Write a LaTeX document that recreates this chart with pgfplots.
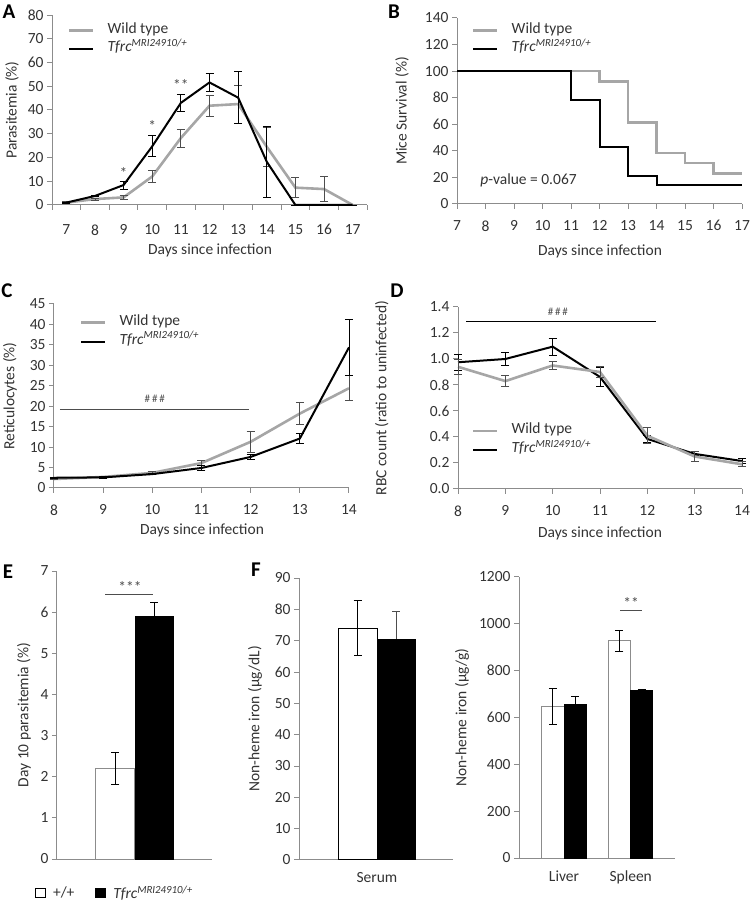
\documentclass[border=0pt]{standalone}
\usepackage{fontspec}
\setmainfont{Carlito}
\usepackage{pgfplots}
\usepackage{pgfplotstable}
\pgfplotsset{compat=1.18}
\definecolor{axgray}{HTML}{8C8C8C}
\definecolor{wtgray}{HTML}{A6A6A6}
\definecolor{txt}{HTML}{333333}
\definecolor{errgray}{HTML}{4D4D4D}
\newcommand\fs{\fontsize{15.5}{18}\selectfont}
\newcommand\tfrc{\textit{Tfrc}\textsuperscript{\textit{MRI24910/+}}}
\tikzset{xtitle/.style={font=\fs, text=txt, anchor=center}}
\pgfplotsset{
  excel/.style={
    scale only axis, anchor=south west, clip=false,
    axis x line*=bottom, axis y line*=left,
    axis line style={draw=axgray, line width=1pt},
    every tick/.style={draw=axgray, line width=1pt},
    tick align=outside, major tick length=5pt, minor tick length=5pt,
    ticklabel style={font=\fs, text=txt},
    xticklabel style={yshift=-8pt},
    label style={font=\fs, text=txt},
    /pgf/number format/assume math mode=true,
    /pgf/number format/1000 sep={},
    scaled ticks=false,
    ylabel style={anchor=center},
  },
  wt/.style={draw=wtgray, line width=2.6pt, mark=none,
    error bars/y dir=both, error bars/y explicit,
    error bars/error bar style={draw=errgray, line width=0.9pt},
    error bars/error mark options={rotate=90, draw=errgray, mark size=4pt, line width=0.9pt}},
  mu/.style={draw=black, line width=2pt, mark=none,
    error bars/y dir=both, error bars/y explicit,
    error bars/error bar style={draw=black, line width=0.9pt},
    error bars/error mark options={rotate=90, draw=black, mark size=4pt, line width=0.9pt}},
  lgd/.style={legend style={draw=none, fill=none, inner sep=0pt, outer sep=0pt,
      font=\fs, text=txt, nodes={inner sep=0pt, text height=8pt, text depth=3pt},
      /tikz/every odd column/.append style={column sep=13pt}, row sep=#1},
    legend cell align=left,
    legend image code/.code={\draw[##1] (0pt,0pt) -- (24pt,0pt);}},
  barerr/.style={error bars/y explicit,
    error bars/error bar style={draw=black, line width=0.9pt},
    error bars/error mark options={rotate=90, draw=black, mark size=4pt, line width=0.9pt}},
}
\pgfplotstableread{
d wt wte mu mue
7 1 0.3 1 0.2
8 2.5 0.4 3.8 0.4
9 3.2 1.0 8.4 1.7
10 12 2.7 24.7 4.4
11 28.2 3.8 43 3.6
12 41.8 4.5 51.6 3.6
13 42.5 8 45.2 11
14 24.5 8.3 18.2 15
15 7.3 4.2 0 0
16 6.7 5.2 0 0
17 0 0 0 0
}\tA
\pgfplotstableread{
d wt wte mu mue
8 2.2 0.2 2.5 0.2
9 2.7 0.2 2.6 0.2
10 3.7 0.3 3.4 0.2
11 6.1 0.6 4.9 0.5
12 11.3 2.5 7.6 0.5
13 18.2 2.7 12.1 1.3
14 24.4 3.1 34.4 6.8
}\tC
\pgfplotstableread{
d wt wte mu mue
8 0.94 0.06 0.975 0.06
9 0.83 0.04 1.0 0.05
10 0.95 0.03 1.095 0.065
11 0.90 0.04 0.862 0.075
12 0.41 0.06 0.385 0.03
13 0.25 0.035 0.27 0.015
14 0.19 0.02 0.215 0.02
}\tD
\begin{document}
\begin{tikzpicture}[x=1pt,y=1pt]
\useasboundingbox (0,0) rectangle (750,905);
% panel letters
\node[font=\fontsize{21}{21}\selectfont\bfseries] at (9,893) {A};
\node[font=\fontsize{21}{21}\selectfont\bfseries] at (394,893) {B};
\node[font=\fontsize{21}{21}\selectfont\bfseries] at (7,614) {C};
\node[font=\fontsize{21}{21}\selectfont\bfseries] at (397,614) {D};
\node[font=\fontsize{21}{21}\selectfont\bfseries] at (8,333) {E};
\node[font=\fontsize{21}{21}\selectfont\bfseries] at (256,335) {F};
% x-axis titles
\node[xtitle] at (210,655) {Days since infection};
\node[xtitle] at (600,654) {Days since infection};
\node[xtitle] at (202,375) {Days since infection};
\node[xtitle] at (600,372) {Days since infection};

% ---------- A ----------
\begin{axis}[excel, at={(52pt,700pt)}, width=315pt, height=190pt,
  xmin=6.5, xmax=17.5, ymin=0, ymax=80, ytick={0,10,...,80},
  xtick={7,...,17}, major x tick style={draw=none},
  xticklabel style={yshift=-3pt},
  minor xtick={6.5,7.5,...,17.5},
  ylabel={Parasitemia (\%)}, ylabel style={at={(axis description cs:-0.127,0.5)}},
  lgd=7.3pt, legend style={at={(axis description cs:0.051,0.87)}, anchor=west}]
\addlegendimage{draw=wtgray, line width=2.6pt}\addlegendentry{Wild type}
\addlegendimage{draw=black, line width=2pt}\addlegendentry{\tfrc}
\addplot[wt, forget plot] table[x=d, y=wt, y error=wte] {\tA};
\addplot[mu, forget plot] table[x=d, y=mu, y error=mue] {\tA};
\node[font=\fs, text=errgray] at (axis cs:9,13.5) {*};
\node[font=\fs, text=errgray] at (axis cs:10,33.2) {*};
\node[font=\fs, text=errgray] at (axis cs:11,50.4) {**};
\end{axis}

% ---------- B ----------
\begin{axis}[excel, at={(457pt,701pt)}, width=285pt, height=186pt,
  xmin=7, xmax=17, ymin=0, ymax=140, ytick={0,20,...,140}, xtick={7,...,17},
  ylabel={Mice Survival (\%)}, ylabel style={at={(axis description cs:-0.193,0.5)}},
  lgd=7.3pt, legend style={at={(axis description cs:0.053,0.882)}, anchor=west}]
\addlegendimage{draw=wtgray, line width=2.6pt}\addlegendentry{Wild type}
\addlegendimage{draw=black, line width=2pt}\addlegendentry{\tfrc}
\addplot[draw=wtgray, line width=2.6pt, const plot mark left, forget plot] coordinates {(7,100)(12,92.3)(13,61.5)(14,38.5)(15,30.8)(16,23.1)(17,23.1)};
\addplot[draw=black, line width=2pt, const plot mark left, forget plot] coordinates {(7,100)(11,78.6)(12,42.9)(13,21.4)(14,14.3)(17,14.3)};
\node[font=\fs, text=txt, anchor=west] at (axis cs:7.7,18.1) {\textit{p}-value = 0.067};
\end{axis}

% ---------- C ----------
\begin{axis}[excel, at={(54pt,417pt)}, width=295pt, height=184pt,
  xmin=8, xmax=14, ymin=0, ymax=45, ytick={0,5,...,45}, xtick={8,...,14},
  ylabel={Reticulocytes (\%)}, ylabel style={at={(axis description cs:-0.149,0.5)}},
  lgd=8pt, legend style={at={(axis description cs:0.088,0.847)}, anchor=west}]
\addlegendimage{draw=wtgray, line width=2.6pt}\addlegendentry{Wild type}
\addlegendimage{draw=black, line width=2pt}\addlegendentry{\tfrc}
\addplot[draw=errgray, line width=0.9pt, forget plot] coordinates {(8.12,19.1)(11.97,19.1)};
\node[font=\fontsize{11}{11}\selectfont, text=errgray] at (axis cs:10.05,21.8) {\#\,\#\,\#};
\addplot[wt, forget plot] table[x=d, y=wt, y error=wte] {\tC};
\addplot[mu, forget plot] table[x=d, y=mu, y error=mue] {\tC};
\end{axis}

% ---------- D ----------
\begin{axis}[excel, at={(458pt,416pt)}, width=284pt, height=182pt,
  xmin=8, xmax=14, ymin=0, ymax=1.4, ytick={0,0.2,0.4,0.6,0.8,1,1.2,1.4}, xtick={8,...,14},
  yticklabel style={/pgf/number format/fixed, /pgf/number format/fixed zerofill, /pgf/number format/precision=1},
  ylabel={RBC count (ratio to uninfected)}, ylabel style={at={(axis description cs:-0.268,0.5)}},
  lgd=8pt, legend style={at={(axis description cs:0.049,0.266)}, anchor=west}]
\addlegendimage{draw=wtgray, line width=2.6pt}\addlegendentry{Wild type}
\addlegendimage{draw=black, line width=2pt}\addlegendentry{\tfrc}
\addplot[draw=black, line width=0.9pt, forget plot] coordinates {(8.17,1.285)(12.18,1.285)};
\node[font=\fontsize{11}{11}\selectfont, text=errgray] at (axis cs:10.11,1.36) {\#\,\#\,\#};
\addplot[mu, forget plot] table[x=d, y=mu, y error=mue] {\tD};
\addplot[wt, forget plot] table[x=d, y=wt, y error=wte] {\tD};
\end{axis}

% ---------- E ----------
\begin{axis}[excel, at={(57pt,46pt)}, width=155pt, height=288pt,
  xmin=0, xmax=1, ymin=0, ymax=7, ytick={0,...,7}, xtick=\empty,
  ylabel={Day 10 parasitemia (\%)}, ylabel style={at={(axis description cs:-0.213,0.5)}},
  legend style={at={(axis description cs:-0.161,-0.118)}, anchor=west, draw=none, fill=none,
    legend columns=2, font=\fs, text=txt, nodes={inner sep=0pt},
    /tikz/every odd column/.append style={column sep=7pt},
    /tikz/every even column/.append style={column sep=21pt}},
  legend image code/.code={\draw[#1] (0pt,-4.5pt) rectangle (10pt,5pt);}]
\addlegendimage{draw=black, fill=white, line width=0.8pt}\addlegendentry{+/+}
\addlegendimage{draw=black, fill=black, line width=0.8pt}\addlegendentry{\tfrc}
\addplot[ybar, bar width=0.252, bar shift=0pt, fill=white, draw=axgray, line width=1pt,
  barerr, error bars/y dir=both, forget plot] coordinates {(0.377,2.2) +- (0,0.39)};
\addplot[ybar, bar width=0.245, bar shift=0pt, fill=black, draw=black, line width=1pt,
  barerr, error bars/y dir=plus, forget plot] coordinates {(0.626,5.9) +- (0,0.34)};
\addplot[draw=errgray, line width=0.9pt, forget plot] coordinates {(0.31,6.42)(0.62,6.42)};
\node[font=\fs, text=errgray] at (axis cs:0.471,6.62) {***};
\end{axis}

% ---------- F left ----------
\begin{axis}[excel, at={(299pt,45pt)}, width=154pt, height=282pt,
  xmin=0, xmax=1, ymin=0, ymax=90, ytick={0,10,...,90},
  xtick={0.506}, xticklabels={Serum}, major x tick style={draw=none},
  xticklabel style={yshift=4pt},
  ylabel={Non-heme iron (µg/dL)}, ylabel style={at={(axis description cs:-0.286,0.5)}}]
\addplot[ybar, bar width=0.253, bar shift=0pt, fill=white, draw=black, line width=1pt,
  barerr, error bars/y dir=both] coordinates {(0.38,74) +- (0,8.7)};
\addplot[ybar, bar width=0.247, bar shift=0pt, fill=black, draw=black, line width=1pt,
  barerr, error bars/y dir=plus, error bars/error bar style={draw=errgray, line width=0.9pt},
  error bars/error mark options={rotate=90, draw=errgray, mark size=4pt, line width=0.9pt}] coordinates {(0.63,70.5) +- (0,8.8)};
\end{axis}

% ---------- F right ----------
\begin{axis}[excel, at={(519pt,47pt)}, width=156pt, height=281pt,
  xmin=0, xmax=2, ymin=0, ymax=1200, ytick={0,200,...,1200},
  xtick={0.577,1.432}, xticklabels={Liver,Spleen}, major x tick style={draw=none},
  xticklabel style={yshift=4pt},
  ylabel={Non-heme iron (µg/g)}, ylabel style={at={(axis description cs:-0.365,0.5)}}]
\addplot[ybar, bar width=0.286, bar shift=0pt, fill=white, draw=axgray, line width=1pt,
  barerr, error bars/y dir=both] coordinates {(0.434,647) +- (0,77) (1.287,927) +- (0,45)};
\addplot[ybar, bar width=0.282, bar shift=0pt, fill=black, draw=black, line width=1pt,
  barerr, error bars/y dir=plus] coordinates {(0.718,655) +- (0,37) (1.573,714) +- (0,7)};
\addplot[draw=errgray, line width=0.9pt] coordinates {(1.295,1058)(1.58,1058)};
\node[font=\fs, text=errgray] at (axis cs:1.437,1090) {**};
\end{axis}
\end{tikzpicture}
\end{document}
